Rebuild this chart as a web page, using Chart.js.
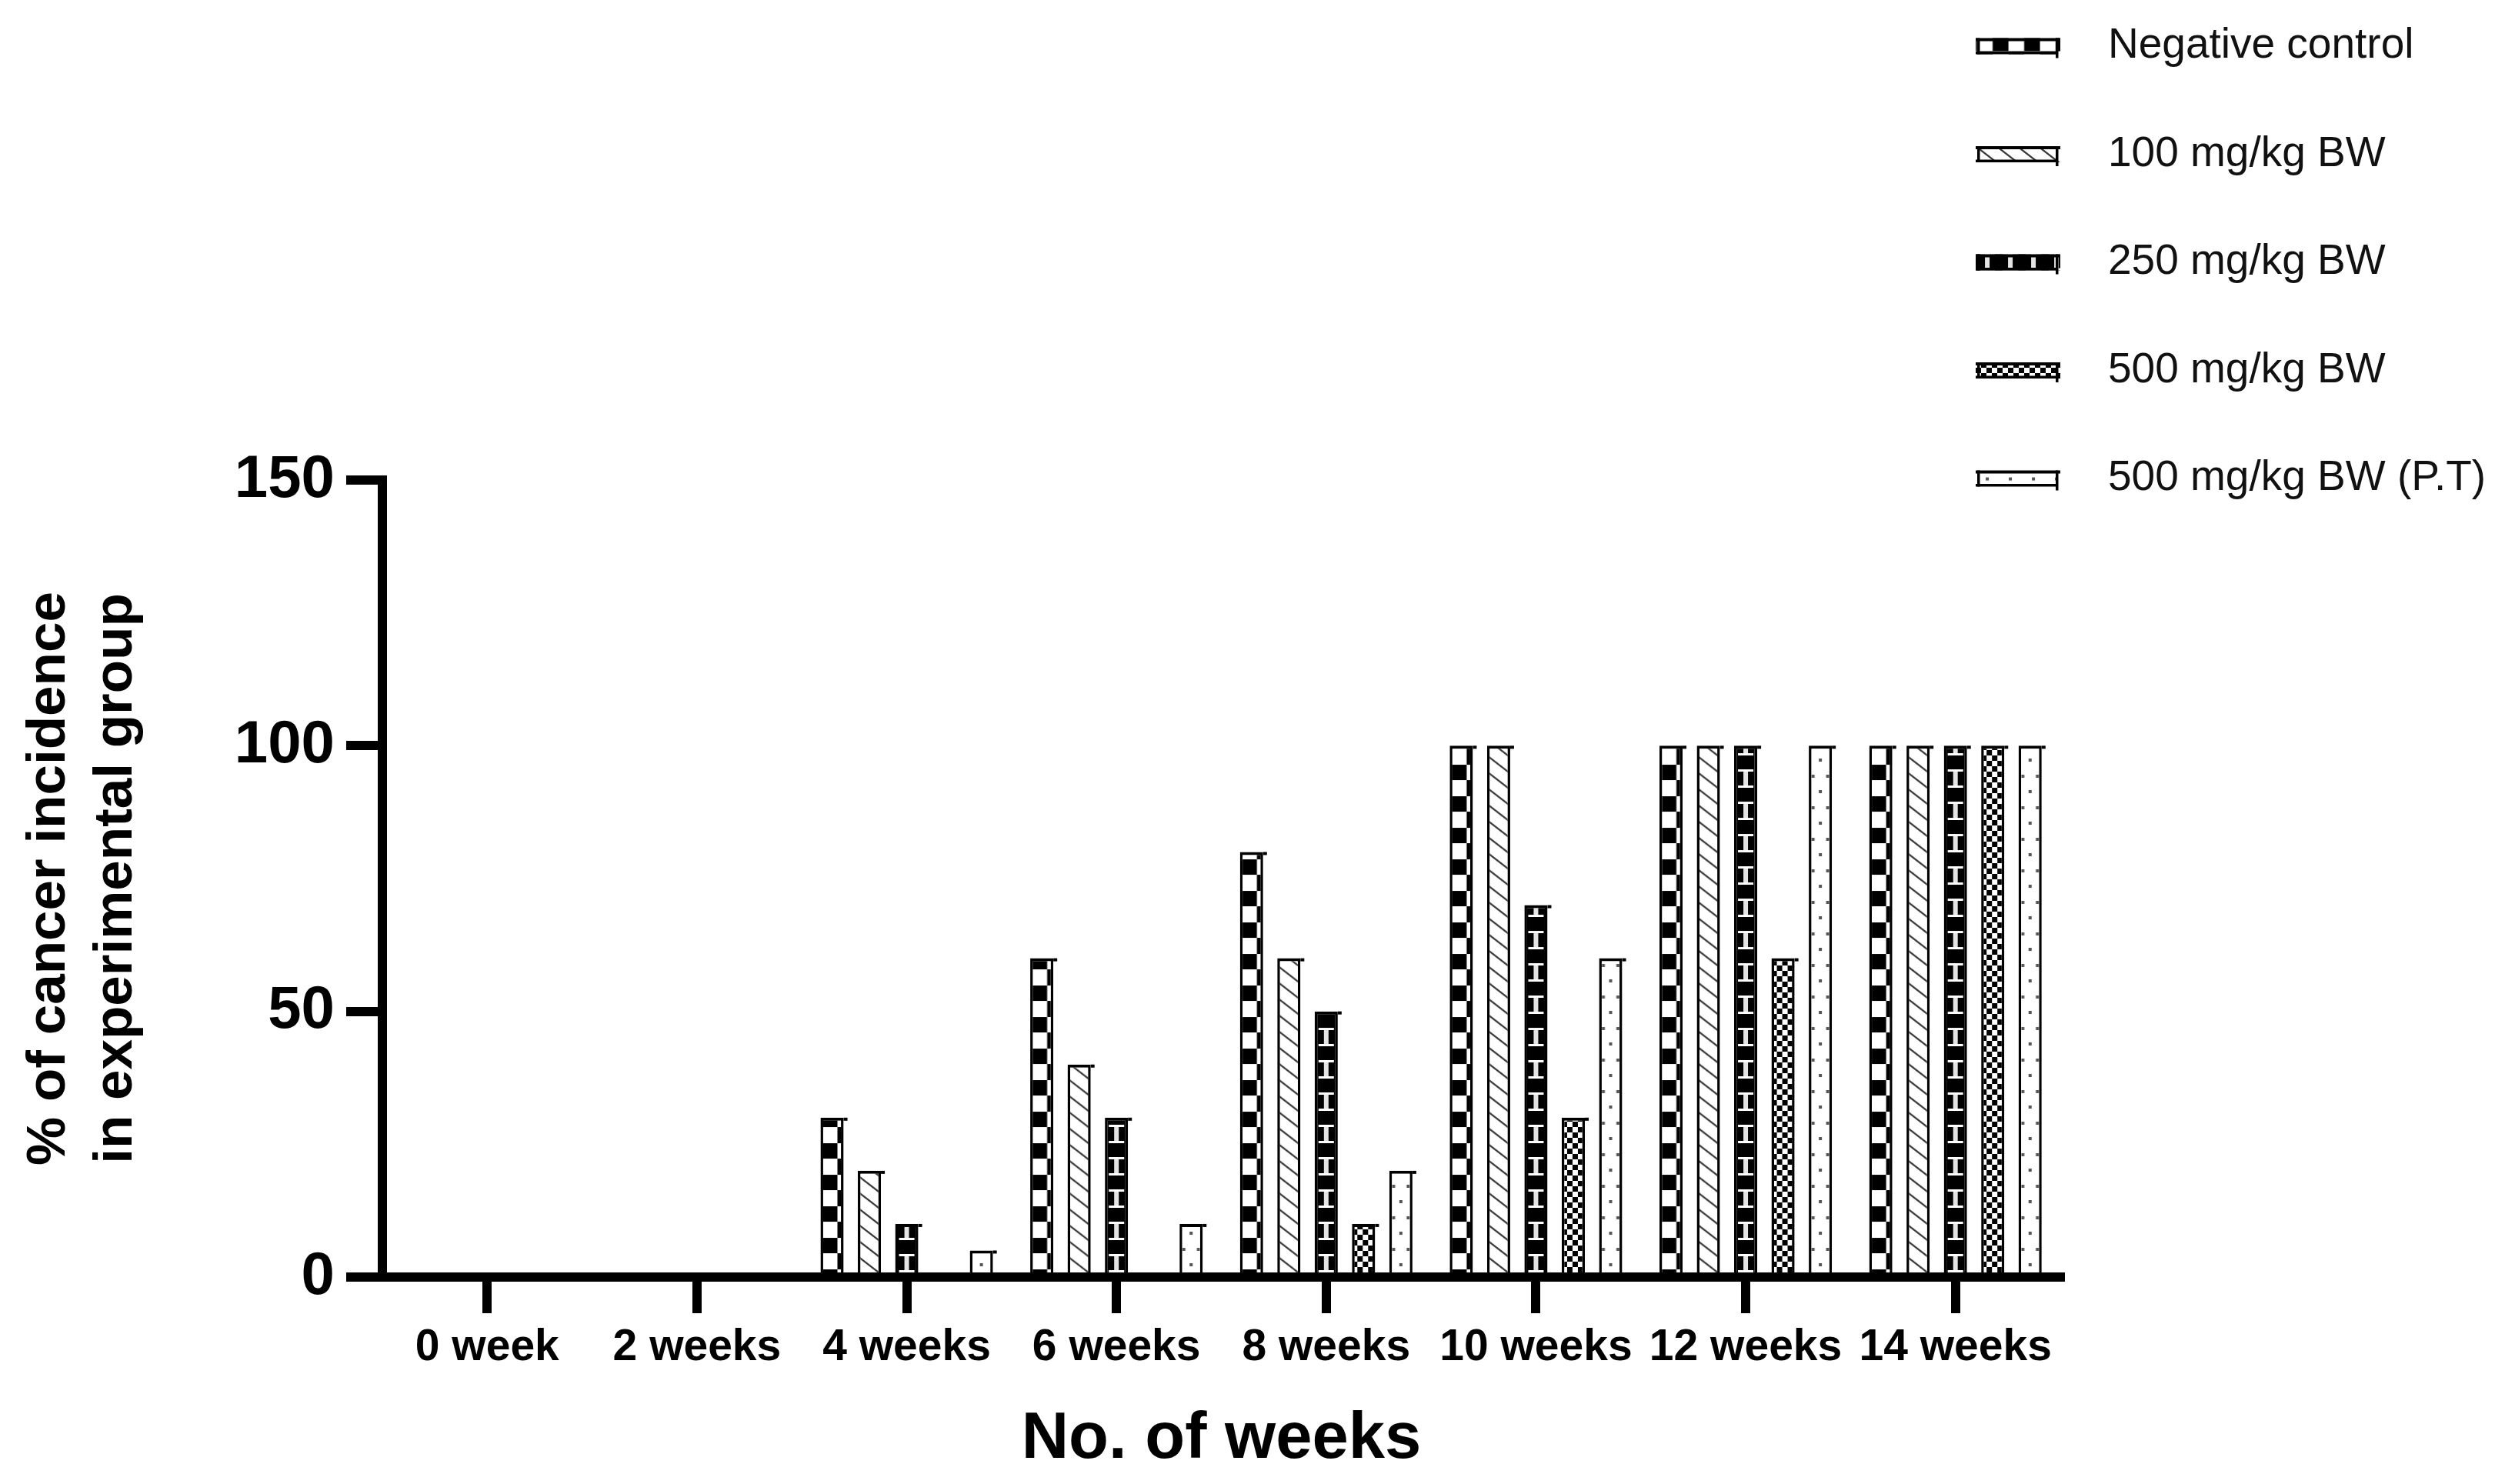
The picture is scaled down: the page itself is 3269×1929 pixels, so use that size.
<!DOCTYPE html>
<html>
<head>
<meta charset="utf-8">
<title>Cancer incidence</title>
<script src="https://cdn.jsdelivr.net/npm/chart.js@4.4.0/dist/chart.umd.min.js"></script>
<style>
  html, body { margin: 0; padding: 0; background: #fff; }
  canvas { display: block; }
</style>
</head>
<body>
<canvas id="incidenceChart" width="3269" height="1929"></canvas>
<script>
// data
const weeks = ['0 week', '2 weeks', '4 weeks', '6 weeks', '8 weeks', '10 weeks', '12 weeks', '14 weeks'];
const groupNames = ['Negative control', '100 mg/kg BW', '250 mg/kg BW', '500 mg/kg BW', '500 mg/kg BW (P.T)'];
const negativeControl = [0, 0, 30, 60, 80, 100, 100, 100];
const dose100 = [0, 0, 20, 40, 60, 100, 100, 100];
const dose250 = [0, 0, 10, 30, 50, 70, 100, 100];
const dose500 = [0, 0, 0, 0, 10, 30, 60, 100];
const dose500pt = [0, 0, 5, 10, 20, 60, 100, 100];
const yTicks = [0, 50, 100, 150];

const seriesValues = [negativeControl, dose100, dose250, dose500, dose500pt];
const patternKinds = ['blocks', 'hatch', 'ibeam', 'checker', 'dots'];
const FONT = '"Liberation Sans", Arial, sans-serif';

// pattern tiles, GraphPad style fills
const tileCache = {};
function getTile(kind, w) {
  const bw = Math.max(8, Math.round(w));
  const key = kind + bw;
  if (tileCache[key]) return tileCache[key];
  const c = document.createElement('canvas');
  let g;
  if (kind === 'blocks') {
    // big checker, about one cell per bar
    c.width = 41; c.height = 41;
    g = c.getContext('2d');
    g.fillStyle = '#fff'; g.fillRect(0, 0, 41, 41);
    g.fillStyle = '#000';
    g.fillRect(0, 0, 20.5, 16);
    g.fillRect(0, 37, 20.5, 4);
    g.fillRect(20.5, 16, 20.5, 21);
  } else if (kind === 'hatch') {
    c.width = 27; c.height = 21;
    g = c.getContext('2d');
    g.fillStyle = '#fff'; g.fillRect(0, 0, 27, 21);
    g.strokeStyle = '#3a3a3a'; g.lineWidth = 2.2;
    for (const c0 of [-21, 0, 21]) {
      g.beginPath();
      g.moveTo(-10, c0 - 7.78);
      g.lineTo(37, c0 + 28.78);
      g.stroke();
    }
  } else if (kind === 'ibeam') {
    c.width = bw; c.height = 42;
    g = c.getContext('2d');
    g.fillStyle = '#000'; g.fillRect(0, 0, bw, 42);
    const mid = bw / 2;
    g.fillStyle = '#fff';
    g.fillRect(mid - 10, 18, 20, 3);
    g.fillRect(mid - 10, 39, 20, 3);
    g.fillStyle = '#e4e4e4';
    g.fillRect(mid - 3, 21, 6, 18);
  } else if (kind === 'checker') {
    c.width = 14; c.height = 14;
    g = c.getContext('2d');
    g.fillStyle = '#fff'; g.fillRect(0, 0, 14, 14);
    g.fillStyle = '#000';
    g.fillRect(0, 0, 7, 7);
    g.fillRect(7, 7, 7, 7);
  } else {
    c.width = bw; c.height = 41;
    g = c.getContext('2d');
    g.fillStyle = '#fff'; g.fillRect(0, 0, bw, 41);
    g.fillStyle = '#555';
    g.fillRect(bw / 2 - 2, 29, 4, 4);
    g.fillRect(3.5, 9, 4, 4);
    g.fillRect(bw - 7.5, 9, 4, 4);
  }
  tileCache[key] = c;
  return c;
}

function patternAt(ctx, kind, w, left, base) {
  const p = ctx.createPattern(getTile(kind, w), 'repeat');
  const shift = kind === 'blocks' ? 1.5 : 0;
  p.setTransform(new DOMMatrix([1, 0, 0, 1, left + shift, base]));
  return p;
}

// anchor every bar's fill to its own left edge and baseline
const anchorPatterns = {
  id: 'anchorPatterns',
  beforeDatasetsDraw(chart) {
    chart.data.datasets.forEach((ds, i) => {
      chart.getDatasetMeta(i).data.forEach(bar => {
        const {x, width, base} = bar.getProps(['x', 'width', 'base'], true);
        bar.options.backgroundColor = patternAt(chart.ctx, patternKinds[i], width, x - width / 2, base);
      });
    });
  },
  // the top edge of each bar sticks out a little to the right
  afterDatasetsDraw(chart) {
    const ctx = chart.ctx;
    ctx.save();
    ctx.fillStyle = '#000';
    chart.data.datasets.forEach((ds, i) => {
      chart.getDatasetMeta(i).data.forEach(bar => {
        const {x, y, width, base} = bar.getProps(['x', 'y', 'width', 'base'], true);
        if (base - y < 1) return;
        ctx.fillRect(x + width / 2, y, 5, 4);
      });
    });
    ctx.restore();
  }
};

// legend stacked in the top right corner
const cornerLegend = {
  id: 'cornerLegend',
  afterDraw(chart) {
    const ctx = chart.ctx;
    const boxX = 2568, boxW = 110, boxH = 21;
    chart.data.datasets.forEach((ds, i) => {
      const cy = 60 + i * 140.5;
      const top = cy - boxH / 2, bottom = cy + boxH / 2;
      ctx.save();
      ctx.fillStyle = patternAt(ctx, patternKinds[i], 30, boxX, bottom);
      ctx.fillRect(boxX, top, boxW, boxH);
      ctx.fillStyle = '#000';
      ctx.fillRect(boxX, top, boxW, 4);
      ctx.fillRect(boxX, bottom - 3.5, boxW - 3, 3.5);
      ctx.fillRect(boxX + 2, top, 3.5, boxH);
      ctx.fillRect(boxX + boxW - 6, top, 3.5, boxH + 5);
      ctx.font = '55px ' + FONT;
      ctx.fillStyle = '#111';
      ctx.textAlign = 'left';
      ctx.textBaseline = 'middle';
      ctx.fillText(ds.label, 2740, cy);
      ctx.restore();
    });
  }
};

const ctx = document.getElementById('incidenceChart').getContext('2d');
const incidenceChart = new Chart(ctx, {
  type: 'bar',
  data: {
    labels: weeks,
    datasets: groupNames.map((name, i) => ({
      label: name,
      data: seriesValues[i],
      backgroundColor: () => '#fff',
      borderColor: '#000',
      borderWidth: { top: 4, left: 3.5, right: 3.5, bottom: 0 },
      borderSkipped: 'start',
      inflateAmount: 0,
      categoryPercentage: 0.89,
      barPercentage: 0.62
    }))
  },
  options: {
    responsive: false,
    animation: false,
    devicePixelRatio: 1,
    events: [],
    layout: { padding: { top: 624, right: 591, bottom: 0, left: 0 } },
    plugins: {
      legend: { display: false },
      tooltip: { enabled: false }
    },
    scales: {
      x: {
        z: 1,
        offset: true,
        grid: { offset: false, drawOnChartArea: false, color: '#000', lineWidth: 12, tickWidth: 12, tickLength: 47 },
        border: { color: '#000', width: 12 },
        ticks: {
          color: '#000',
          font: { family: FONT, weight: 'bold', size: 57 },
          padding: 11,
          maxRotation: 0,
          autoSkip: false
        },
        title: {
          display: true,
          text: 'No. of weeks',
          color: '#000',
          font: { family: FONT, weight: 'bold', size: 85 },
          padding: { top: 0, bottom: 6 }
        },
        afterFit: s => { s.height = 269; }
      },
      y: {
        z: 1,
        min: 0,
        max: 150,
        afterBuildTicks: s => { s.ticks = yTicks.map(v => ({ value: v })); },
        grid: { drawOnChartArea: false, color: '#000', lineWidth: 12, tickWidth: 12, tickLength: 47 },
        border: { color: '#000', width: 12 },
        ticks: {
          color: '#000',
          font: { family: FONT, weight: 'bold', size: 78 },
          padding: 15
        },
        title: {
          display: true,
          text: ['% of cancer incidence', 'in experimental group'],
          color: '#000',
          font: { family: FONT, weight: 'bold', size: 71, lineHeight: 1.225 },
          padding: { top: 21, bottom: 0 }
        },
        afterFit: s => { s.width = 497; }
      }
    }
  },
  plugins: [anchorPatterns, cornerLegend]
});
</script>
</body>
</html>
